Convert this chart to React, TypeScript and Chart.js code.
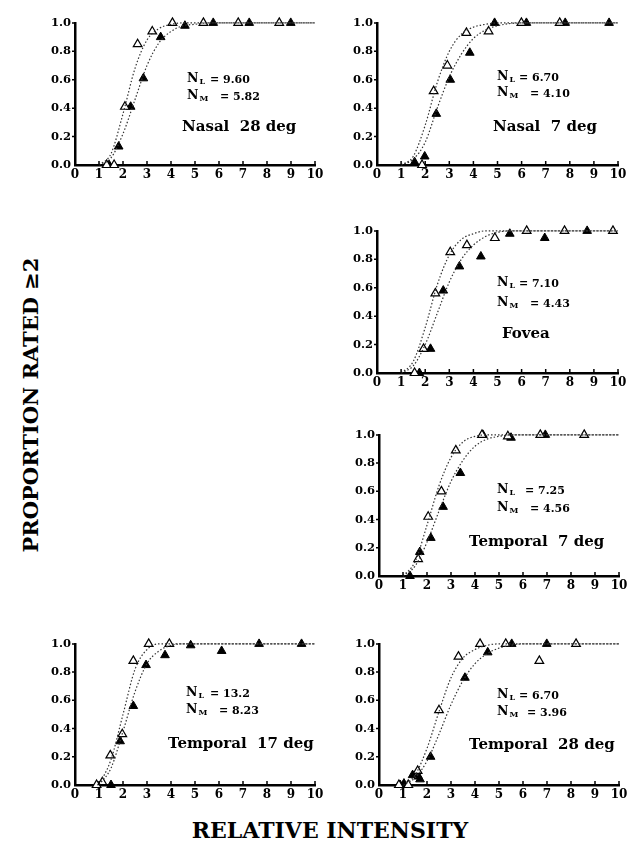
import React, { useEffect, useRef } from "react";
import { Chart, registerables } from "chart.js";

Chart.register(...registerables);

type P = [number, number];

// ---------- data ----------
const xTicks = [0, 1, 2, 3, 4, 5, 6, 7, 8, 9, 10];
const yTicks = [0, 0.2, 0.4, 0.6, 0.8, 1.0];

// Nasal 28 deg
const nasal28Open: P[] = [[1.32, 0], [1.63, 0], [2.08, 0.41], [2.61, 0.85], [3.22, 0.94], [4.06, 1.0], [5.35, 1.0], [6.8, 1.0], [8.51, 1.0]];
const nasal28Filled: P[] = [[1.42, 0], [1.82, 0.13], [2.32, 0.41], [2.85, 0.61], [3.57, 0.9], [4.58, 0.98], [5.76, 1.0], [7.26, 1.0], [8.99, 1.0]];
const nasal28OpenFit: P[] = [[1, 0], [1.5, 0.08], [2, 0.36], [2.5, 0.68], [3, 0.88], [3.5, 0.96], [4, 0.99], [4.5, 1], [10, 1]];
const nasal28FilledFit: P[] = [[1, 0], [1.5, 0.05], [2, 0.22], [2.5, 0.46], [3, 0.7], [3.5, 0.86], [4, 0.94], [4.5, 0.98], [5, 0.99], [5.5, 1], [10, 1]];

// Nasal 7 deg
const nasal7Open: P[] = [[1.87, 0], [2.35, 0.52], [2.92, 0.7], [3.71, 0.93], [4.63, 0.94], [5.99, 1.0], [7.58, 1.0]];
const nasal7Filled: P[] = [[1.56, 0.02], [1.98, 0.06], [2.46, 0.36], [3.04, 0.6], [3.85, 0.79], [4.88, 1.0], [6.2, 1.0], [7.81, 1.0], [9.63, 1.0]];
const nasal7OpenFit: P[] = [[1, 0], [1.5, 0.06], [2, 0.28], [2.5, 0.58], [3, 0.8], [3.5, 0.92], [4, 0.97], [4.5, 0.99], [5, 1], [10, 1]];
const nasal7FilledFit: P[] = [[1, 0], [1.5, 0.04], [2, 0.16], [2.5, 0.4], [3, 0.62], [3.5, 0.78], [4, 0.89], [4.5, 0.95], [5, 0.98], [6, 1], [10, 1]];

// Fovea
const foveaOpen: P[] = [[1.56, 0], [1.93, 0.17], [2.42, 0.56], [3.04, 0.85], [3.73, 0.9], [4.89, 0.95], [6.21, 1.0], [7.78, 1.0], [9.79, 1.0]];
const foveaFilled: P[] = [[1.76, 0], [2.22, 0.17], [2.75, 0.58], [3.42, 0.75], [4.31, 0.82], [5.51, 0.98], [6.96, 0.95], [8.72, 1.0]];
const foveaOpenFit: P[] = [[1, 0], [1.5, 0.08], [2, 0.32], [2.5, 0.62], [3, 0.83], [3.5, 0.94], [4, 0.98], [4.5, 1], [10, 1]];
const foveaFilledFit: P[] = [[1, 0], [1.5, 0.05], [2, 0.2], [2.5, 0.42], [3, 0.64], [3.5, 0.8], [4, 0.9], [4.5, 0.96], [5, 0.99], [5.5, 1], [10, 1]];

// Temporal 7 deg
const temporal7Open: P[] = [[1.63, 0.12], [2.05, 0.42], [2.6, 0.6], [3.2, 0.89], [4.29, 1.0], [5.37, 0.99], [6.72, 1.0], [8.55, 1.0]];
const temporal7Filled: P[] = [[1.29, 0], [1.7, 0.17], [2.16, 0.27], [2.67, 0.49], [3.39, 0.73], [4.33, 1.0], [5.5, 0.98], [6.93, 1.0]];
const temporal7OpenFit: P[] = [[1, 0], [1.5, 0.1], [2, 0.36], [2.5, 0.64], [3, 0.84], [3.5, 0.95], [4, 0.99], [4.5, 1], [10, 1]];
const temporal7FilledFit: P[] = [[1, 0], [1.5, 0.07], [2, 0.24], [2.5, 0.46], [3, 0.67], [3.5, 0.82], [4, 0.92], [4.5, 0.97], [5, 0.99], [5.5, 1], [10, 1]];

// Temporal 17 deg
const temporal17Open: P[] = [[0.9, 0], [1.14, 0.02], [1.47, 0.21], [1.97, 0.36], [2.43, 0.88], [3.07, 1.0], [3.93, 1.0]];
const temporal17Filled: P[] = [[1.5, 0], [1.88, 0.31], [2.43, 0.56], [2.96, 0.85], [3.75, 0.92], [4.82, 0.99], [6.11, 0.95], [7.67, 1.0], [9.44, 1.0]];
const temporal17OpenFit: P[] = [[1, 0], [1.5, 0.18], [2, 0.5], [2.5, 0.82], [3, 0.96], [3.5, 1], [10, 1]];
const temporal17FilledFit: P[] = [[1, 0], [1.5, 0.12], [2, 0.38], [2.5, 0.66], [3, 0.86], [3.5, 0.95], [4, 0.99], [4.5, 1], [10, 1]];

// Temporal 28 deg
const temporal28Open: P[] = [[0.83, 0], [1.22, 0], [1.61, 0.1], [2.5, 0.53], [3.31, 0.91], [4.21, 1.0], [5.28, 1.0], [6.68, 0.88], [8.21, 1.0]];
const temporal28Filled: P[] = [[0.88, 0], [1.04, 0.01], [1.4, 0.07], [1.64, 0.06], [1.71, 0.04], [2.15, 0.2], [3.58, 0.76], [4.53, 0.94], [5.53, 1.0], [6.99, 1.0]];
const temporal28OpenFit: P[] = [[1, 0], [1.5, 0.07], [2, 0.26], [2.5, 0.52], [3, 0.76], [3.5, 0.9], [4, 0.96], [4.5, 0.99], [5, 1], [10, 1]];
const temporal28FilledFit: P[] = [[1, 0], [1.5, 0.05], [2, 0.17], [2.5, 0.36], [3, 0.57], [3.5, 0.74], [4, 0.86], [4.5, 0.93], [5, 0.97], [5.5, 0.99], [6, 1], [10, 1]];

const panelLabels = ["Nasal  28 deg", "Nasal  7 deg", "Fovea", "Temporal  7 deg", "Temporal  17 deg", "Temporal  28 deg"];
const nLValues = ["9.60", "6.70", "7.10", "7.25", "13.2", "6.70"];
const nMValues = ["5.82", "4.10", "4.43", "4.56", "8.23", "3.96"];
const yTitle = "PROPORTION RATED \u22652";
const xTitle = "RELATIVE INTENSITY";

// ---------- layout ----------
const FONT = '"DejaVu Serif", serif';
const YW = 32; // y-axis width
const XH = 18; // x-axis height
const PT = 8;
const PR = 12;

const toXY = (a: P[]) => a.map(([x, y]) => ({ x, y }));

const tickPlugin = {
  id: "inTicks",
  afterDraw(chart: any) {
    const { ctx, chartArea, scales } = chart;
    ctx.save();
    ctx.strokeStyle = "#000";
    ctx.lineWidth = 1.5;
    ctx.beginPath();
    for (const v of xTicks) {
      if (v === 0) continue;
      const x = scales.x.getPixelForValue(v);
      ctx.moveTo(x, chartArea.bottom);
      ctx.lineTo(x, chartArea.bottom - 4);
    }
    for (const v of yTicks) {
      if (v === 0) continue;
      const y = scales.y.getPixelForValue(v);
      ctx.moveTo(chartArea.left, y);
      ctx.lineTo(chartArea.left - 3, y);
    }
    ctx.stroke();
    ctx.restore();
  },
};

type Box = { l: number; t: number; r: number; b: number };

function Panel(props: { box: Box; open: P[]; filled: P[]; openFit: P[]; filledFit: P[] }) {
  const ref = useRef<HTMLCanvasElement>(null);
  const { box } = props;
  const left = box.l - YW;
  const top = box.t - PT;
  const width = box.r - left + PR;
  const height = box.b - top + XH;

  useEffect(() => {
    if (!ref.current) return;
    const fitStyle = {
      borderColor: "#333",
      borderWidth: 1.2,
      borderDash: [1.5, 2],
      pointRadius: 0,
      cubicInterpolationMode: "monotone" as const,
      fill: false,
      clip: false as any,
    };
    const chart = new Chart(ref.current, {
      type: "scatter",
      data: {
        datasets: [
          { data: toXY(props.openFit), showLine: true, ...fitStyle },
          { data: toXY(props.filledFit), showLine: true, ...fitStyle },
          {
            data: toXY(props.open),
            showLine: false,
            pointStyle: "triangle",
            pointRadius: 5,
            pointBackgroundColor: "#fff",
            pointBorderColor: "#000",
            pointBorderWidth: 1.2,
            clip: false as any,
          },
          {
            data: toXY(props.filled),
            showLine: false,
            pointStyle: "triangle",
            pointRadius: 5,
            pointBackgroundColor: "#000",
            pointBorderColor: "#000",
            pointBorderWidth: 1,
            clip: false as any,
          },
        ],
      },
      options: {
        animation: false,
        responsive: false,
        devicePixelRatio: 1,
        layout: { padding: { top: PT, right: PR, bottom: 0, left: 0 } },
        plugins: { legend: { display: false }, tooltip: { enabled: false } },
        events: [],
        scales: {
          x: {
            type: "linear",
            min: 0,
            max: 10,
            afterFit: (s: any) => {
              s.height = XH;
            },
            afterBuildTicks: (s: any) => {
              s.ticks = xTicks.map((v) => ({ value: v }));
            },
            grid: { display: false, drawTicks: false },
            border: { display: true, color: "#000", width: 2.5 },
            ticks: {
              autoSkip: false,
              maxRotation: 0,
              padding: 3,
              color: "#000",
              font: { family: FONT, weight: "bold", size: 12 },
              callback: (v: any) => String(v),
            },
          },
          y: {
            type: "linear",
            min: 0,
            max: 1,
            afterFit: (s: any) => {
              s.width = YW;
            },
            afterBuildTicks: (s: any) => {
              s.ticks = yTicks.map((v) => ({ value: v }));
            },
            grid: { display: false, drawTicks: false },
            border: { display: true, color: "#000", width: 2.5 },
            ticks: {
              autoSkip: false,
              padding: 4,
              color: "#000",
              font: { family: FONT, weight: "bold", size: 11.5 },
              callback: (v: any) => Number(v).toFixed(1),
            },
          },
        },
      },
      plugins: [tickPlugin],
    });
    return () => chart.destroy();
  }, []);

  return (
    <div style={{ position: "absolute", left, top, width, height }}>
      <canvas ref={ref} width={width} height={height} style={{ width, height, display: "block" }} />
    </div>
  );
}

// text positioned by baseline
function Txt(props: { x: number; base: number; size: number; children: any; anchor?: "left" | "center" }) {
  const top = props.base - 0.846 * props.size;
  return (
    <div
      style={{
        position: "absolute",
        left: props.x,
        top,
        fontFamily: FONT,
        fontWeight: "bold",
        fontSize: props.size,
        lineHeight: 1,
        whiteSpace: "pre",
        color: "#000",
        transform: props.anchor === "center" ? "translateX(-50%)" : undefined,
      }}
    >
      {props.children}
    </div>
  );
}

function NLabel(props: { x: number; base: number; sub: string; vx: number; value: string }) {
  return (
    <>
      <Txt x={props.x} base={props.base} size={12.5}>
        N<span style={{ fontSize: 8, position: "relative", top: 2, marginLeft: 1 }}>{props.sub}</span>
      </Txt>
      <Txt x={props.vx} base={props.base} size={11}>
        {"= " + props.value}
      </Txt>
    </>
  );
}

const panels = [
  { box: { l: 75, t: 20, r: 315, b: 165 }, open: nasal28Open, filled: nasal28Filled, openFit: nasal28OpenFit, filledFit: nasal28FilledFit,
    nx: 187, nlBase: 83, nlVx: 210, nmBase: 100, nmVx: 220, lx: 182, lBase: 132 },
  { box: { l: 377, t: 20, r: 618, b: 165 }, open: nasal7Open, filled: nasal7Filled, openFit: nasal7OpenFit, filledFit: nasal7FilledFit,
    nx: 497, nlBase: 81, nlVx: 519, nmBase: 97, nmVx: 530, lx: 493, lBase: 132 },
  { box: { l: 377, t: 228, r: 618, b: 373 }, open: foveaOpen, filled: foveaFilled, openFit: foveaOpenFit, filledFit: foveaFilledFit,
    nx: 497, nlBase: 287, nlVx: 519, nmBase: 307, nmVx: 530, lx: 502, lBase: 339 },
  { box: { l: 379, t: 432, r: 619, b: 576 }, open: temporal7Open, filled: temporal7Filled, openFit: temporal7OpenFit, filledFit: temporal7FilledFit,
    nx: 497, nlBase: 494, nlVx: 525, nmBase: 512, nmVx: 530, lx: 469, lBase: 547 },
  { box: { l: 75, t: 641, r: 315, b: 785 }, open: temporal17Open, filled: temporal17Filled, openFit: temporal17OpenFit, filledFit: temporal17FilledFit,
    nx: 186, nlBase: 697, nlVx: 210, nmBase: 714, nmVx: 219, lx: 168, lBase: 749 },
  { box: { l: 379, t: 641, r: 619, b: 785 }, open: temporal28Open, filled: temporal28Filled, openFit: temporal28OpenFit, filledFit: temporal28FilledFit,
    nx: 497, nlBase: 699, nlVx: 519, nmBase: 716, nmVx: 527, lx: 469, lBase: 750 },
];

export default function App() {
  return (
    <div style={{ position: "absolute", left: 0, top: 0, width: 632, height: 848, background: "#fff", overflow: "hidden" }}>
      {panels.map((p, i) => (
        <React.Fragment key={i}>
          <Panel box={p.box} open={p.open} filled={p.filled} openFit={p.openFit} filledFit={p.filledFit} />
          <NLabel x={p.nx} base={p.nlBase} sub="L" vx={p.nlVx} value={nLValues[i]} />
          <NLabel x={p.nx} base={p.nmBase} sub="M" vx={p.nmVx} value={nMValues[i]} />
          <Txt x={p.lx} base={p.lBase} size={15}>
            {panelLabels[i]}
          </Txt>
        </React.Fragment>
      ))}
      <div
        style={{
          position: "absolute",
          left: 30,
          top: 405,
          transform: "translate(-50%, -50%) rotate(-90deg)",
          fontFamily: FONT,
          fontWeight: "bold",
          fontSize: 21,
          whiteSpace: "nowrap",
          lineHeight: 1,
        }}
      >
        {yTitle}
      </div>
      <Txt x={330} base={838} size={22} anchor="center">
        {xTitle}
      </Txt>
    </div>
  );
}
